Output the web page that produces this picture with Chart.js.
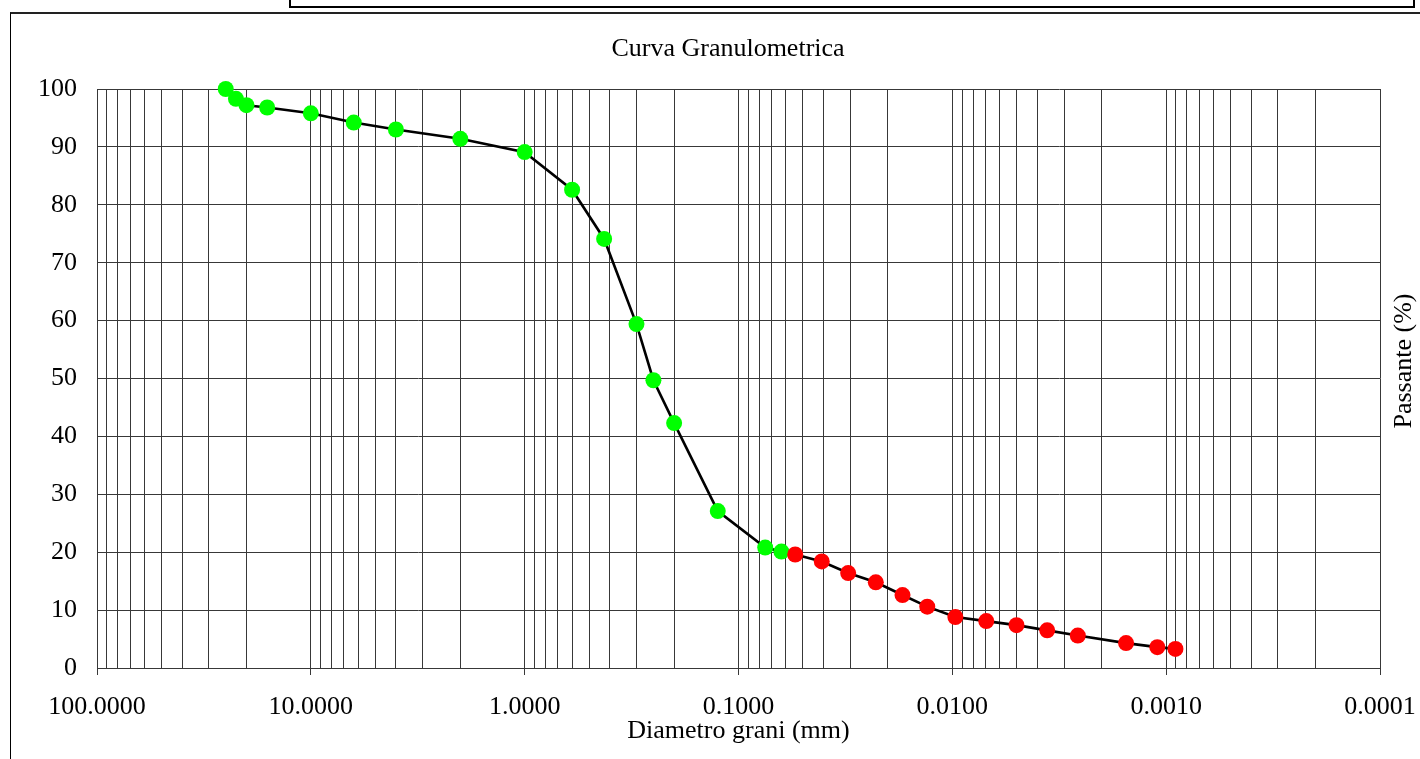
<!DOCTYPE html>
<html>
<head>
<meta charset="utf-8">
<title>Curva Granulometrica</title>
<script src="https://cdn.jsdelivr.net/npm/chart.js@4/dist/chart.umd.min.js"></script>
<style>
  html, body { margin: 0; padding: 0; background: #fff; overflow: hidden; }
  #wrap { position: absolute; left: 0; top: 0; width: 1420px; height: 759px; }
  .box { position: absolute; box-sizing: border-box; pointer-events: none; }
  #topBox { left: 289px; top: -4px; width: 1126px; height: 12px; border: 2px solid #000; }
  #frame { left: 10px; top: 12px; width: 1430px; height: 770px; border-left: 1.5px solid #000; border-top: 2px solid #222; }
</style>
</head>
<body>
<div id="wrap"><canvas id="chart"></canvas></div>
<div class="box" id="topBox"></div>
<div class="box" id="frame"></div>
<script>
// Sieve analysis (setacciatura), diameter in mm and % passing
const sieveDiam = [25, 22.4, 20, 16, 10, 6.3, 4, 2, 1, 0.6, 0.425, 0.3, 0.25, 0.2, 0.125, 0.075, 0.063];
const sievePass = [100, 98.3, 97.2, 96.8, 95.8, 94.2, 93.0, 91.4, 89.1, 82.6, 74.1, 59.4, 49.7, 42.3, 27.1, 20.8, 20.1];

// Sedimentation (aerometria)
const sedimDiam = [0.0543, 0.0408, 0.0307, 0.0228, 0.0171, 0.0131, 0.00968, 0.00694, 0.00501, 0.0036, 0.00259, 0.00154, 0.0011, 0.000905];
const sedimPass = [19.6, 18.4, 16.4, 14.8, 12.6, 10.6, 8.8, 8.1, 7.4, 6.5, 5.6, 4.3, 3.6, 3.3];

// x axis decades and their labels
const xDecades = [100, 10, 1, 0.1, 0.01, 0.001, 0.0001];
const xTickLabels = ["100.0000", "10.0000", "1.0000", "0.1000", "0.0100", "0.0010", "0.0001"];

const FONT = "'Liberation Serif', 'Times New Roman', serif";
const GRID = "#383838";

// minor gridlines at 2..9 x each decade
const xGridValues = [];
xDecades.slice(1).forEach((d) => {
  for (let k = 1; k <= 9; k++) xGridValues.push(k === 1 ? d : d * k);
});
xGridValues.push(100);

const points = sieveDiam.map((d, i) => ({ x: d, y: sievePass[i] }))
  .concat(sedimDiam.map((d, i) => ({ x: d, y: sedimPass[i] })));

// chart title, and "Passante (%)" reading bottom-to-top on the right side
const titles = {
  id: "titles",
  afterDraw(chart) {
    const ctx = chart.ctx;
    ctx.save();
    ctx.font = "26px " + FONT;
    ctx.fillStyle = "#000";
    ctx.textAlign = "center";
    ctx.textBaseline = "middle";
    ctx.fillText("Curva Granulometrica", 728, 49);
    ctx.translate(1404, 361);
    ctx.rotate(-Math.PI / 2);
    ctx.fillText("Passante (%)", 0, 0);
    ctx.restore();
  },
};

Chart.defaults.font.family = FONT;
Chart.defaults.color = "#000";

const ctx = document.getElementById("chart").getContext("2d");
new Chart(ctx, {
  type: "line",
  data: {
    datasets: [
      {
        label: "Passante",
        data: points,
        clip: false,
        borderColor: "#000",
        borderWidth: 2.6,
        tension: 0,
        pointRadius: 8,
        pointBorderWidth: 0,
        pointBackgroundColor: (c) => (c.dataIndex < sieveDiam.length ? "#00ff00" : "#ff0000"),
      },
    ],
  },
  options: {
    responsive: true,
    maintainAspectRatio: false,
    animation: false,
    events: [],
    layout: { padding: { left: 18, right: 40, top: 89, bottom: 15 } },
    plugins: {
      legend: { display: false },
      tooltip: { enabled: false },
    },
    scales: {
      x: {
        type: "logarithmic",
        reverse: true,
        min: 0.0001,
        max: 100,
        afterBuildTicks: (scale) => {
          scale.ticks = xGridValues.map((v) => ({ value: v }));
        },
        ticks: {
          autoSkip: false,
          maxRotation: 0,
          minRotation: 0,
          padding: 19,
          font: { size: 26, lineHeight: 1 },
          callback: (value) => {
            const i = xDecades.indexOf(value);
            return i >= 0 ? xTickLabels[i] : "";
          },
        },
        grid: {
          color: GRID,
          lineWidth: 1,
          drawTicks: true,
          tickLength: 7,
          tickColor: (c) => (c.tick && xDecades.includes(c.tick.value) ? GRID : "rgba(0,0,0,0)"),
        },
        border: { color: GRID, width: 1 },
        title: {
          display: true,
          text: "Diametro grani (mm)",
          font: { size: 26, lineHeight: 1 },
          padding: { top: -21, bottom: 0 },
        },
      },
      y: {
        min: 0,
        max: 100,
        ticks: {
          stepSize: 10,
          padding: 20,
          font: { size: 26, lineHeight: 1 },
        },
        grid: { color: GRID, lineWidth: 1, drawTicks: false },
        border: { color: GRID, width: 1 },
      },
    },
  },
  plugins: [titles],
});
</script>
</body>
</html>
